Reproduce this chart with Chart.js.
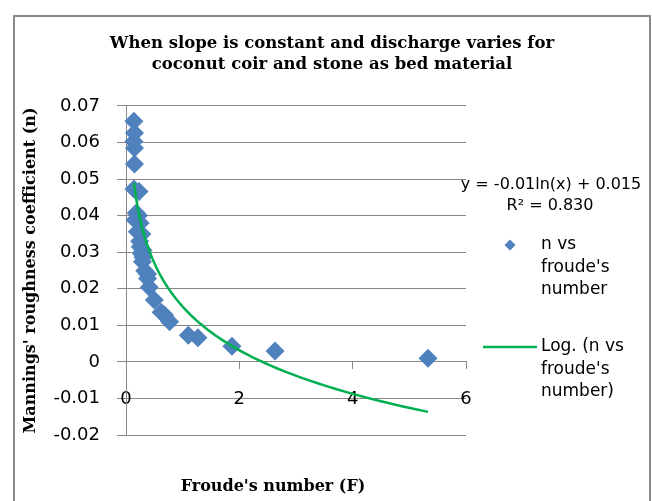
<!DOCTYPE html>
<html>
<head>
<meta charset="utf-8">
<script src="https://cdn.jsdelivr.net/npm/chart.js@4.4.0/dist/chart.umd.min.js"></script>
<style>
  body { margin: 0; background: #fff; }
  #wrap { position: relative; width: 652px; height: 501px; overflow: hidden; }
  #marco { position: absolute; left: 13px; top: 15px; width: 634px; height: 500px; border: 2px solid #8a8a8a; pointer-events: none; }
</style>
</head>
<body>
<div id="wrap">
  <canvas id="myChart" width="652" height="501"></canvas>
  <div id="marco"></div>
</div>
<script>
// valores
const froudeNumber = [0.14, 0.15, 0.14, 0.15, 0.15, 0.14, 0.23, 0.18, 0.22, 0.16, 0.25, 0.20, 0.28, 0.24, 0.25, 0.30, 0.27, 0.30, 0.29, 0.33, 0.38, 0.38, 0.41, 0.50, 0.62, 0.68, 0.77, 1.10, 1.27, 1.87, 2.63, 5.33];
const manningN = [0.0658, 0.0626, 0.0603, 0.0585, 0.0541, 0.0473, 0.0466, 0.0407, 0.0400, 0.0388, 0.0380, 0.0356, 0.0350, 0.0330, 0.0315, 0.0305, 0.0297, 0.0286, 0.0274, 0.0249, 0.0240, 0.0228, 0.0204, 0.0169, 0.0136, 0.0128, 0.0110, 0.0073, 0.0066, 0.0043, 0.0030, 0.0010];

const trendA = -0.0172;
const trendB = 0.0151;

const yTickLabels = ["-0.02", "-0.01", "0", "0.01", "0.02", "0.03", "0.04", "0.05", "0.06", "0.07"];
const xTickLabels = ["0", "2", "4", "6"];

const tituloGrafico = ["When slope is constant and discharge varies for", "coconut coir and stone as bed material"];
const tituloEjeY = "Mannings' roughness coefficient (n)";
const tituloEjeX = "Froude's number (F)";
const textoEcuacion = ["y = -0.01ln(x) + 0.015", "R\u00b2 = 0.830"];
const leyendaSerie = ["n vs", "froude's", "number"];
const leyendaTendencia = ["Log. (n vs", "froude's", "number)"];

const azul = "#4F81BD";
const verde = "#00B050";
const gris = "#878787";

const puntos = froudeNumber.map((x, i) => ({ x, y: manningN[i] }));

// la tendencia va del menor al mayor numero de Froude, como en Excel
const xMin = Math.min(...froudeNumber);
const xMax = Math.max(...froudeNumber);
const puntosTendencia = [];
for (let i = 0; i <= 80; i++) {
  const x = Math.exp(Math.log(xMin) + (Math.log(xMax) - Math.log(xMin)) * i / 80);
  puntosTendencia.push({ x, y: trendA * Math.log(x) + trendB });
}

const leyendaPlugin = {
  id: "leyendaExcel",
  afterDraw(chart) {
    const { ctx, chartArea } = chart;
    const r = chartArea.right;
    ctx.save();
    ctx.fillStyle = "#000";
    ctx.textBaseline = "middle";

    // ecuacion de la tendencia
    ctx.font = "16px 'DejaVu Sans'";
    ctx.textAlign = "center";
    ctx.fillText(textoEcuacion[0], r + 85, 185);
    ctx.fillText(textoEcuacion[1], r + 84, 206);

    // leyenda
    ctx.font = "17px 'DejaVu Sans'";
    ctx.textAlign = "left";
    leyendaSerie.forEach((t, i) => ctx.fillText(t, r + 75, 245 + i * 22.5));
    leyendaTendencia.forEach((t, i) => ctx.fillText(t, r + 75, 347 + i * 22.5));

    ctx.fillStyle = azul;
    ctx.beginPath();
    ctx.moveTo(r + 44 - 5.5, 245);
    ctx.lineTo(r + 44, 245 - 5.5);
    ctx.lineTo(r + 44 + 5.5, 245);
    ctx.lineTo(r + 44, 245 + 5.5);
    ctx.closePath();
    ctx.fill();

    ctx.strokeStyle = verde;
    ctx.lineWidth = 2.5;
    ctx.beginPath();
    ctx.moveTo(r + 17, 347);
    ctx.lineTo(r + 71, 347);
    ctx.stroke();

    // titulo del eje x
    ctx.fillStyle = "#000";
    ctx.textAlign = "center";
    ctx.font = "bold 16px 'DejaVu Serif'";
    ctx.fillText(tituloEjeX, 273, 487);
    ctx.restore();
  },
};

const fuenteTicks = { family: "DejaVu Sans", size: 18 };

const cfg = {
  type: "scatter",
  data: {
    datasets: [
      {
        label: "Log. (n vs froude's number)",
        data: puntosTendencia,
        showLine: true,
        borderColor: verde,
        borderWidth: 2.5,
        pointRadius: 0,
        fill: false,
        clip: false,
      },
      {
        label: "n vs froude's number",
        data: puntos,
        pointStyle: "rectRot",
        pointRadius: 9.5,
        backgroundColor: azul,
        borderColor: azul,
        borderWidth: 0,
        clip: false,
      },
    ],
  },
  options: {
    responsive: false,
    animation: false,
    layout: { padding: { left: 14, right: 2, top: 16, bottom: 66 } },
    plugins: {
      legend: { display: false },
      tooltip: { enabled: false },
      title: {
        display: true,
        text: tituloGrafico,
        color: "#000",
        font: { family: "DejaVu Serif", size: 16.5, weight: "bold", lineHeight: 1.27 },
        padding: { top: 17.5, bottom: 30.5 },
      },
    },
    scales: {
      x: {
        type: "linear",
        axis: "x",
        position: { y: 0 },
        min: 0,
        max: 6,
        ticks: {
          stepSize: 2,
          color: "#000",
          font: fuenteTicks,
          padding: 20,
          maxRotation: 0,
          callback: (v, i) => xTickLabels[i],
        },
        grid: { drawOnChartArea: false, drawTicks: true, tickLength: 7, color: gris },
        border: { color: gris },
        afterFit: (s) => { s.height = 0; },
      },
      y: {
        type: "linear",
        position: "left",
        min: -0.02,
        max: 0.07,
        ticks: {
          stepSize: 0.01,
          color: "#000",
          font: fuenteTicks,
          padding: 17,
          callback: (v, i) => yTickLabels[i],
        },
        grid: { color: gris, tickLength: 9 },
        border: { color: gris },
        title: {
          display: true,
          text: tituloEjeY,
          color: "#000",
          font: { family: "DejaVu Serif", size: 16, weight: "bold" },
          padding: { top: 7, bottom: 0 },
        },
        afterFit: (s) => { s.width = 112; },
      },
      yDer: {
        type: "linear",
        position: "right",
        display: true,
        grid: { display: false },
        ticks: { display: false },
        border: { display: false },
        afterFit: (s) => { s.width = 184; },
      },
    },
  },
  plugins: [leyendaPlugin],
};

const myChart = new Chart(document.getElementById("myChart"), cfg);
</script>
</body>
</html>
